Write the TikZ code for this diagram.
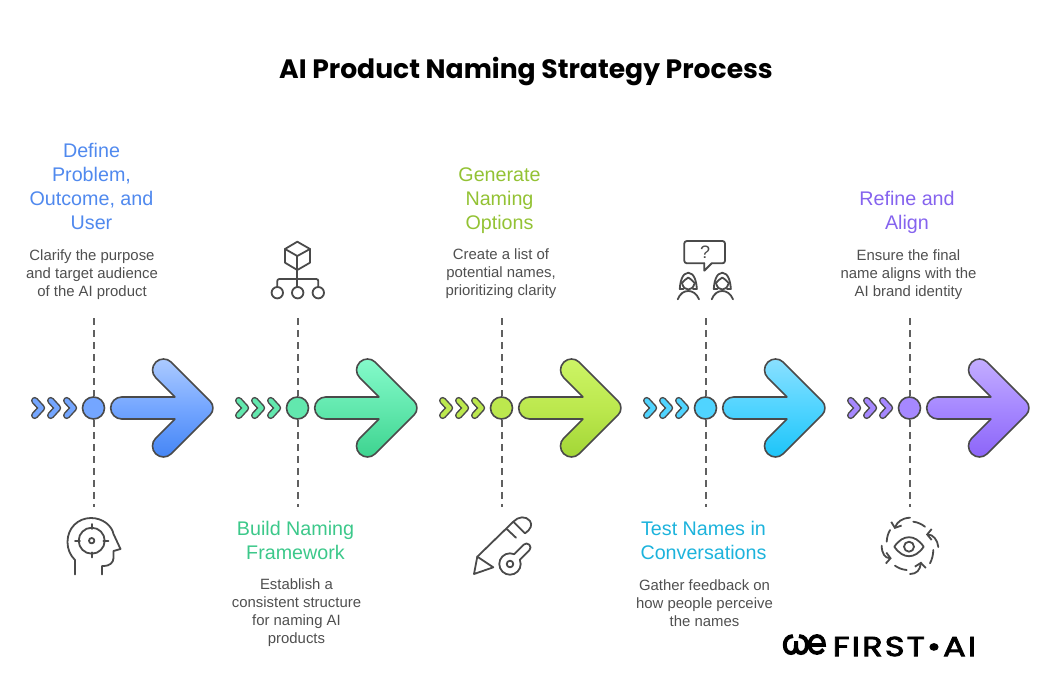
\documentclass[tikz,border=0pt]{standalone}
\usepackage{fontspec}
\setmainfont{Liberation Sans}
\newfontfamily\titlefont{Poppins}
\usepackage{tikz}
\usetikzlibrary{arrows.meta}
\definecolor{inkgray}{HTML}{4A4A4A}
\definecolor{linegray}{HTML}{606060}
\definecolor{bodygray}{HTML}{4F4F4F}
\definecolor{blueText}{HTML}{5089EE}
\definecolor{greenText}{HTML}{3CC88A}
\definecolor{limeText}{HTML}{93C234}
\definecolor{cyanText}{HTML}{1DB3DC}
\definecolor{purpleText}{HTML}{8563EE}
\definecolor{blueMid}{HTML}{74A6FF}
\definecolor{blueTop}{HTML}{ADCBFF}
\definecolor{blueLow}{HTML}{4485F5}
\definecolor{greenMid}{HTML}{62E8AE}
\definecolor{greenTop}{HTML}{85FBCB}
\definecolor{greenLow}{HTML}{3DD38F}
\definecolor{limeMid}{HTML}{BCE84E}
\definecolor{limeTop}{HTML}{CDF566}
\definecolor{limeLow}{HTML}{A2D636}
\definecolor{cyanMid}{HTML}{50D4FF}
\definecolor{cyanTop}{HTML}{8BE0FF}
\definecolor{cyanLow}{HTML}{1CC4F8}
\definecolor{purpleMid}{HTML}{A688FF}
\definecolor{purpleTop}{HTML}{C4AEFF}
\definecolor{purpleLow}{HTML}{8C64F8}
\tikzset{
  heading/.style={align=center, inner sep=0pt, font=\fontsize{19.7}{24}\selectfont},
  bodytext/.style={align=center, inner sep=0pt, text=bodygray, font=\fontsize{14.9}{18}\selectfont},
  dropline/.style={dash pattern=on 7pt off 5pt, color=linegray, line width=2pt},
  dot/.style={circle, draw=inkgray, line width=1.6pt, minimum size=22pt, inner sep=0pt},
  icon/.style={color=inkgray, line width=1.8pt, line cap=round, line join=round},
  bigarrow/.style={draw=inkgray, line width=1.6pt, line join=round},
  turnarrow/.style={icon, -{Straight Barb[length=4.5pt, width=11pt]}},
}
% one step on the axis: name, x, colour prefix
\newcommand{\chevmark}[2]{
  \draw[inkgray, line width=7.4pt, line cap=round, line join=round] (#1+3.7,-7.4) -- (#1+10.5,0) -- (#1+3.7,7.4);
  \draw[#2, line width=4.4pt, line cap=round, line join=round] (#1+3.7,-7.4) -- (#1+10.5,0) -- (#1+3.7,7.4);
}
\newcommand{\stepmark}[3]{
  \coordinate (#1top) at (#2,318);
  \coordinate (#1bot) at (#2,507);
  \node[dot, fill=#3Mid] (#1dot) at (#2,408) {};
  \draw[dropline] (#1top) -- (#1dot);
  \draw[dropline] (#1dot) -- (#1bot);
  \begin{scope}[shift={(#2,408)}]
    \chevmark{-62.5}{#3Mid}
    \chevmark{-46.5}{#3Mid}
    \chevmark{-30.5}{#3Mid}
    \draw[bigarrow, top color=#3Top, bottom color=#3Low, middle color=#3Mid]
      (28.2,11) -- (81.4,11) -- (62.2,30.2) arc[start angle=225, end angle=45, radius=11]
      -- (116.5,7.07) arc[start angle=45, end angle=-45, radius=10]
      -- (77.8,-45.8) arc[start angle=-45, end angle=-225, radius=11]
      -- (81.4,-11) -- (28.2,-11) arc[start angle=270, end angle=90, radius=11] -- cycle;
  \end{scope}
}
\newcommand{\personmark}[1]{
  \begin{scope}[shift={(#1,0)}]
    \draw[icon] (677.7,299.3) .. controls (680,293.5) and (684,291) .. (688.3,291) .. controls (692.6,291) and (696.6,293.5) .. (699,299.3);
    \draw[icon] (679.8,289) .. controls (680,283) and (682,272.7) .. (688.3,272.7) .. controls (694.6,272.7) and (696.6,283) .. (696.8,289);
    \draw[icon] (679.8,289) -- (683.5,289);
    \draw[icon] (693.1,289) -- (696.8,289);
    \draw[icon] (681.5,283.5) .. controls (684,281) and (686,278.5) .. (688.3,277.5) .. controls (690.6,278.5) and (692.6,281) .. (695.1,283.5);
    \draw[icon] (682.3,284) .. controls (683.3,287.5) and (685.5,289.5) .. (688.3,289.5) .. controls (691.1,289.5) and (693.3,287.5) .. (694.3,284);
  \end{scope}
}
\begin{document}
\begin{tikzpicture}[x=1pt, y=1pt, yscale=-1]
  \useasboundingbox (0,0) rectangle (1052,696);

  \node[font=\titlefont\bfseries\fontsize{26.6}{30}\selectfont, inner sep=0pt] (title) at (526,72) {AI Product Naming Strategy Process};

  \stepmark{define}{93.5}{blue}
  \stepmark{build}{297.5}{green}
  \stepmark{generate}{501.5}{lime}
  \stepmark{test}{705.5}{cyan}
  \stepmark{refine}{909.5}{purple}

  \node[heading, text=blueText] (defineHead) at (91.5,186) {Define\\Problem,\\Outcome, and\\User};
  \node[bodytext] (defineBody) at (92,274.5) {Clarify the purpose\\and target audience\\of the AI product};
  \node[heading, text=greenText] (buildHead) at (295.5,540) {Build Naming\\Framework};
  \node[bodytext] (buildBody) at (296.5,613) {Establish a\\consistent structure\\for naming AI\\products};
  \node[heading, text=limeText] (generateHead) at (499.5,201) {Generate\\Naming\\Options};
  \node[bodytext] (generateBody) at (501,273.5) {Create a list of\\potential names,\\prioritizing clarity};
  \node[heading, text=cyanText] (testHead) at (703.5,540) {Test Names in\\Conversations};
  \node[bodytext] (testBody) at (704.5,603.5) {Gather feedback on\\how people perceive\\the names};
  \node[heading, text=purpleText] (refineHead) at (907,212) {Refine and\\Align};
  \node[bodytext] (refineBody) at (908.5,274.5) {Ensure the final\\name aligns with the\\AI brand identity};

  % head with target
  \draw[icon] (75,574.5) -- (75,560) .. controls (70,555) and (67.5,549) .. (67.5,542)
    .. controls (67.5,528) and (78,518) .. (91,518) .. controls (103,518) and (112,526) .. (113.5,534)
    -- (120.5,549) -- (113.5,551) -- (113.5,558) .. controls (113.5,563) and (109,566) .. (104,566)
    -- (102,566) -- (102,574.5);
  \draw[icon] (91.7,540.7) circle (13);
  \draw[icon] (91.7,540.7) circle (2.7);
  \draw[icon] (91.7,524) -- (91.7,529);
  \draw[icon] (91.7,552.4) -- (91.7,557.4);
  \draw[icon] (75,540.7) -- (80,540.7);
  \draw[icon] (103.4,540.7) -- (108.4,540.7);

  % cube with tree
  \draw[icon] (297.3,241.7) -- (310,249) -- (310,262.7) -- (297.3,270) -- (285,262.7) -- (285,249) -- cycle;
  \draw[icon] (285,249) -- (297.3,256) -- (310,249);
  \draw[icon] (297.3,256) -- (297.3,279);
  \draw[icon, rounded corners=2pt] (277.3,287) -- (277.3,279) -- (318.3,279) -- (318.3,287);
  \draw[icon] (297.3,279) -- (297.3,287);
  \draw[icon] (277.3,292.7) circle (5.7);
  \draw[icon] (297.7,292.7) circle (5.7);
  \draw[icon] (318.3,292.7) circle (5.7);

  % pencil and key
  \draw[icon] (477.3,556.7) -- (513.3,521.7) .. controls (518,516.5) and (526,515.5) .. (530,521)
    .. controls (532.5,525) and (531,529) .. (525,533.3);
  \draw[icon] (477.3,556.7) -- (474,574) -- (493.3,567.3) -- cycle;
  \draw[icon] (506.7,529) -- (516,537.7);
  \draw[icon] (513.3,521.7) -- (525,533.3);
  \draw[icon] (514.17,554.17) -- (523.67,544.67) arc[start angle=-135, end angle=45, radius=4]
    -- (519.83,559.83) arc[start angle=-23, end angle=293, radius=10.7];
  \draw[icon] (510,564) circle (3.3);

  % people with question bubble
  \draw[icon, rounded corners=2.5pt] (704.3,263.3) -- (684.3,263.3) -- (684.3,241) -- (725,241) -- (725,263.3) -- (711.7,263.3);
  \draw[icon] (711.7,263.3) -- (704.3,270.7) -- (704.3,263.3);
  \node[font=\fontsize{18}{18}\selectfont, text=inkgray, inner sep=0pt] (bubbleMark) at (705,252.5) {?};
  \personmark{0}
  \personmark{34}

  % eye with turning arrows
  \draw[icon] (894.3,546.7) .. controls (899,540) and (904,537.2) .. (909,537.2) .. controls (914,537.2) and (919,540) .. (923.7,546.7)
    .. controls (919,553.4) and (914,556.2) .. (909,556.2) .. controls (904,556.2) and (899,553.4) .. (894.3,546.7) -- cycle;
  \draw[icon] (909,546.7) circle (5);
  \draw[turnarrow] (910,517.7) .. controls (902,518) and (897,522) .. (894.5,529);
  \draw[turnarrow] (938.3,547) .. controls (937.7,540) and (933,534.5) .. (926,534.5);
  \draw[turnarrow] (910,574) .. controls (916.7,574) and (920,570) .. (921,561.7);
  \draw[turnarrow] (881.7,545.7) .. controls (881.7,553.3) and (885,558) .. (891.7,558.3);
  \draw[icon] (913.3,521.7) .. controls (917.5,522.2) and (921.5,524) .. (925,526.7);
  \draw[icon] (933.3,550) .. controls (933.2,555) and (932,559.5) .. (930,563.3);
  \draw[icon] (906.7,570) .. controls (902,569.6) and (898.5,568) .. (895,565.7);
  \draw[icon] (886.7,541.7) .. controls (887,537) and (888,533.5) .. (890,530);

  % brand mark
  \draw[line width=4pt, black] (793,636) .. controls (787,636.5) and (784.8,640.5) .. (784.8,645)
    .. controls (784.8,650.5) and (788,653) .. (791,653) .. controls (794.5,653) and (796,650) .. (796,645) -- (796,641);
  \draw[line width=4pt, black] (796,645) .. controls (796,650) and (797.5,653) .. (801,653)
    .. controls (804,653) and (807,650.5) .. (807,645) .. controls (807,640.5) and (805,636.5) .. (799,636);
  \draw[line width=3.8pt, black] (810.5,645) -- (824,645) .. controls (824,639.5) and (821,636) .. (817,636)
    .. controls (812.5,636) and (809.5,640) .. (809.5,644.5) .. controls (809.5,649.5) and (812.5,653) .. (817,653) .. controls (819.5,653) and (821.5,652) .. (823.5,649.5);
  \node[font=\titlefont\fontsize{27.5}{30}\selectfont\addfontfeature{FakeStretch=1.22,FakeBold=3,LetterSpace=8}, inner sep=0pt, anchor=west] (brand) at (832.5,646.5) {FIRST•AI};
\end{tikzpicture}
\end{document}
